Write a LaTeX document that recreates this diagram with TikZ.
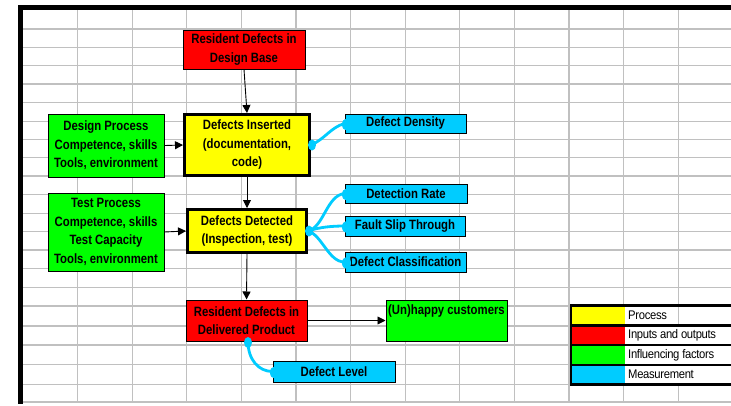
\documentclass[tikz,border=0pt]{standalone}
\usepackage{fontspec}
\setmainfont{Liberation Sans}
\newfontfamily\boxfont[FakeStretch=0.84,BoldFont={Liberation Sans Bold},UprightFont={Liberation Sans Bold}]{Liberation Sans}
\newfontfamily\legfont[FakeStretch=0.9,LetterSpace=-2.5]{Liberation Sans}
\usetikzlibrary{arrows.meta}
\definecolor{xred}{RGB}{255,0,0}
\definecolor{xyellow}{RGB}{255,255,0}
\definecolor{xgreen}{RGB}{0,255,0}
\definecolor{xcyan}{RGB}{0,204,255}
\definecolor{xgrid}{RGB}{192,192,192}
\begin{document}
\begin{tikzpicture}[x=1pt,y=-1pt,
  box/.style={draw=black, line width=1pt, inner sep=0pt, align=center,
              font=\boxfont\fontsize{13.5}{18.5}\selectfont},
  procbox/.style={box, fill=xyellow, line width=3pt},
  iobox/.style={box, fill=xred},
  infbox/.style={box, fill=xgreen},
  measbox/.style={box, fill=xcyan},
  flow/.style={draw=black, line width=0.9pt, -{Triangle[length=8pt,width=8pt]}},
  callout/.style={draw=xcyan, line width=2.8pt},
  blob/.style={fill=xcyan, draw=none},
  gridline/.style={draw=xgrid, line width=1.3pt},
  legtext/.style={anchor=west, inner sep=0pt, font=\legfont\fontsize{12.5}{14}\selectfont},
  legline/.style={draw=black, line width=2.6pt}
]
\useasboundingbox (0,0) rectangle (731,405);
\fill[white] (0,0) rectangle (731,405);

% spreadsheet grid
\foreach \gx in {1,...,12}
  \draw[gridline] ({23+54.6*\gx},10) -- ({23+54.6*\gx},402);
\foreach \gy in {29,47.3,65.7,84,102.7,121.3,139.3,157.7,176,194.3,213.3,231.7,250,268.3,287.3,306,326,345,364.3,384.3,402}
  \draw[gridline] (23,\gy) -- (731,\gy);
% sheet borders
\fill[black] (18,5) rectangle (23,404);
\fill[black] (18,5) rectangle (731,10);

% boxes
\node[iobox, minimum width=122pt, minimum height=39pt] (dbase) at (244,49.5)
  {Resident Defects in\\Design Base};
\node[procbox, minimum width=125pt, minimum height=61pt] (ins) at (247,145)
  {Defects Inserted\\(documentation,\\code)};
\node[infbox, minimum width=116pt, minimum height=63pt] (dproc) at (106,145.5)
  {Design Process\\Competence, skills\\Tools, environment};
\node[infbox, minimum width=116pt, minimum height=78pt] (tproc) at (106,232)
  {Test Process\\Competence, skills\\Test Capacity\\Tools, environment};
\node[procbox, minimum width=119pt, minimum height=43pt] (det) at (247,231)
  {Defects Detected\\(Inspection, test)};
\node[iobox, minimum width=121pt, minimum height=41pt] (dprod) at (246.5,320.5)
  {Resident Defects in\\Delivered Product};
\node[infbox, minimum width=121pt, minimum height=41pt] (cust) at (446.5,320.5) {};
\node[anchor=north, inner sep=0pt, font=\boxfont\fontsize{13.5}{18.5}\selectfont]
  (custlbl) at ([yshift=-5pt]cust.north) {(Un)happy customers};

\node[measbox, minimum width=121pt, minimum height=19pt] (ddens) at (405.5,123.5) {Defect Density};
\node[measbox, minimum width=122pt, minimum height=19pt] (drate) at (406,193.5) {Detection Rate};
\node[measbox, minimum width=120pt, minimum height=20pt] (fst) at (405,226) {Fault Slip Through};
\node[measbox, minimum width=121pt, minimum height=20pt] (dclass) at (405.5,262) {Defect Classification};
\node[measbox, minimum width=122pt, minimum height=21pt] (dlevel) at (334,371.5) {Defect Level};

% flow arrows
\draw[flow] (dbase.south) -- (ins.north);
\draw[flow] (dproc.east) -- (ins.west);
\draw[flow] (ins.south) -- (det.north);
\draw[flow] (tproc.east) -- (det.west);
\draw[flow] (det.south) -- (dprod.north);
\draw[flow] (dprod.east) -- (cust.west);

% measurement callouts
\draw[callout] (ins.east) .. controls +(14,-6) and +(-14,4) .. (ddens.west);
\draw[callout] (det.east) .. controls +(16,-4) and +(-18,2) .. (drate.west);
\draw[callout] (det.east) .. controls +(12,-4) and +(-12,0) .. (fst.west);
\draw[callout] (det.east) .. controls +(14,4) and +(-16,0) .. (dclass.west);
\draw[callout] ([xshift=1.5pt]dprod.south) .. controls +(0,18) and +(-14,0) .. (dlevel.west);

\fill[blob] ([xshift=1pt]ins.east) ellipse [x radius=4, y radius=5.5];
\fill[blob] ([xshift=1pt]det.east) ellipse [x radius=4, y radius=5.5];
\fill[blob] ([xshift=1.5pt,yshift=-1pt]dprod.south) ellipse [x radius=4, y radius=5.5];
\fill[blob] ([xshift=2pt,yshift=-1pt]ddens.west) ellipse [x radius=4.5, y radius=6];
\fill[blob] ([xshift=2pt,yshift=-1pt]drate.west) ellipse [x radius=4.5, y radius=6];
\fill[blob] ([xshift=2pt,yshift=-1pt]fst.west) ellipse [x radius=4.5, y radius=6];
\fill[blob] ([xshift=2pt,yshift=-1pt]dclass.west) ellipse [x radius=4.5, y radius=6];
\fill[blob] ([xshift=2pt,yshift=-1pt]dlevel.west) ellipse [x radius=4.5, y radius=6];

% legend
\fill[white] (625,325.3) rectangle (735,384.3);
\fill[xyellow] (571.5,305.7) rectangle (624.5,325.3);
\fill[xred] (571.5,325.3) rectangle (624.5,345);
\fill[xgreen] (571.5,345) rectangle (624.5,365);
\fill[xcyan] (571.5,365) rectangle (624.5,384.3);
\node[legtext] (lgproc) at (628,315.5) {Process};
\node[legtext] (lgio) at (628,335.2) {Inputs and outputs};
\node[legtext] (lginf) at (628,355) {Influencing factors};
\node[legtext] (lgmeas) at (628,374.7) {Measurement};
\foreach \ly in {305.7,325.3,345,365,384.3}
  \draw[legline] (570,\ly) -- (735,\ly);
\draw[draw=black, line width=2pt] (570.5,304.5) -- (570.5,385.5);
\end{tikzpicture}
\end{document}
